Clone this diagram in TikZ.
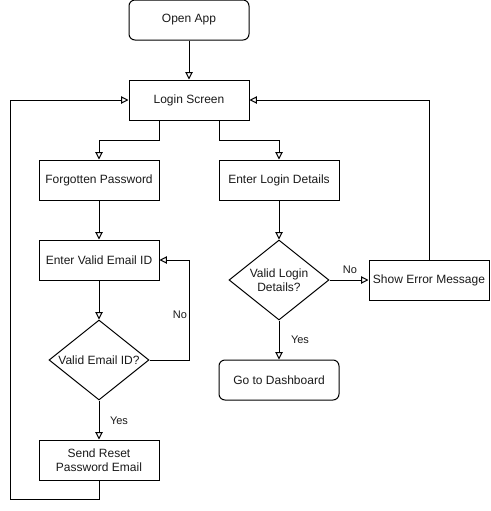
\documentclass[tikz,border=0pt]{standalone}
\usepackage{fontspec}
\setmainfont{Liberation Sans}
\usepackage{xcolor}
\usetikzlibrary{arrows.meta,positioning,shapes,calc}
\definecolor{ink}{HTML}{000000}
\definecolor{txt}{HTML}{1A1A1A}
\tikzset{
  stepbox/.style={draw=ink,fill=white,line width=0.75pt,text=txt,
                  minimum width=90pt,minimum height=30pt,
                  align=center,font=\fontsize{9}{10.5}\selectfont,inner sep=2pt},
  termbox/.style={stepbox,rounded corners=4.5pt},
  decision/.style={diamond,draw=ink,fill=white,line width=0.75pt,text=txt,
                   minimum width=75pt,minimum height=60pt,
                   inner ysep=0pt,inner xsep=-4pt,
                   align=center,font=\fontsize{9}{10.5}\selectfont},
  edgelbl/.style={text=txt,font=\fontsize{8.25}{10}\selectfont,inner sep=1pt},
  flowarr/.style={-{Triangle[open,length=5.5pt,width=5.5pt]},line width=0.75pt,draw=ink}
}

\begin{document}
\begin{tikzpicture}[x=0.75pt,y=-0.75pt]
  \useasboundingbox[fill=white] (0,0) rectangle (490,511);
  \node[termbox] (open) at (189,20) {Open App};
  \node[stepbox] (login) at (189,100) {Login Screen};
  \node[stepbox] (forgot) at (99,180) {Forgotten Password};
  \node[stepbox] (details) at (279,180) {Enter Login Details};
  \node[stepbox] (email) at (99,260) {Enter Valid Email ID};
  \node[decision] (validemail) at (99,360) {Valid Email ID?};
  \node[stepbox] (reset) at (99,460) {Send Reset\\Password Email};
  \node[decision] (validlogin) at (279,280) {Valid Login\\Details?};
  \node[stepbox] (error) at (429,280) {Show Error Message};
  \node[termbox] (dash) at (279,380) {Go to Dashboard};
  \coordinate (loopleft) at (10,499);
  \node[edgelbl] (noemail) at (180,315) {No};
  \node[edgelbl] (yesemail) at (119,421) {Yes};
  \node[edgelbl] (nologin) at (350,270) {No};
  \node[edgelbl] (yeslogin) at (300,340) {Yes};
  \draw[flowarr] (open) -- (login);
  \draw[flowarr] ($(login.south)+(-30,0)$) -- ++(0,20) -| (forgot);
  \draw[flowarr] ($(login.south)+(30,0)$) -- ++(0,20) -| (details);
  \draw[flowarr] (forgot) -- (email);
  \draw[flowarr] (email) -- (validemail);
  \draw[flowarr] (validemail) -- (reset);
  \draw[flowarr] (validemail.east) -- ++(40,0) |- (email.east);
  \draw[flowarr] (reset.south) |- (loopleft) |- (login.west);
  \draw[flowarr] (details) -- (validlogin);
  \draw[flowarr] (validlogin) -- (error);
  \draw[flowarr] (validlogin) -- (dash);
  \draw[flowarr] (error) |- (login);
\end{tikzpicture}
\end{document}
